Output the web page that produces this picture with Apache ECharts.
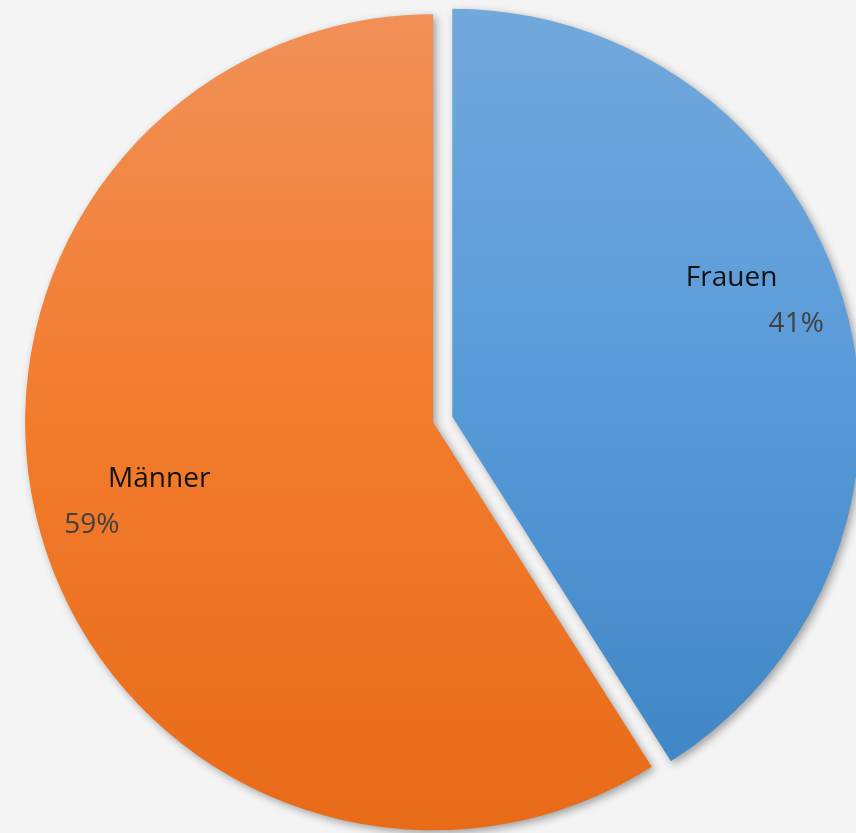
<!DOCTYPE html>
<html>
<head>
<meta charset="utf-8">
<script src="https://cdn.jsdelivr.net/npm/echarts@6/dist/echarts.min.js"></script>
<style>
  html, body { margin: 0; padding: 0; background: #f4f4f4; }
  #chart { width: 856px; height: 833px; }
</style>
</head>
<body>
<div id="chart"></div>
<script>
  const categories = ["Frauen", "Männer"];
  const values = [41, 59];
  const percentLabels = ["41%", "59%"];
  const gradients = [
    ["#72a8dc", "#589bd9", "#4186c6"],
    ["#f19058", "#f27b2c", "#e86b18"]
  ];

  const centerPct = [0.506, 0.507];
  const radius = 408;
  const explode = [20, 0];          // pulled-out distance for each slice
  const labelRatio = [0.80, 0.755];
  const labelShift = [[-11, -24], [0, -5]];

  const chart = echarts.init(document.getElementById("chart"));
  const W = chart.getWidth();
  const H = chart.getHeight();
  const total = values.reduce((s, v) => s + v, 0);

  function midAngle(index) {
    let before = 0;
    for (let i = 0; i < index; i++) before += values[i];
    return ((before + values[index] / 2) / total) * Math.PI * 2;
  }

  function sliceCenter(index) {
    const a = midAngle(index);
    return [W * centerPct[0] + explode[index] * Math.sin(a), H * centerPct[1] - explode[index] * Math.cos(a)];
  }

  const nameStyle = { fontSize: 28, color: "#111", fontFamily: "Open Sans", lineHeight: 44 };
  const pctStyle = { fontSize: 28, color: "#404040", fontFamily: "Open Sans", lineHeight: 48 };
  const rich = {
    nameL: Object.assign({ width: 138, align: "left" }, nameStyle),
    pctR: Object.assign({ width: 138, align: "right" }, pctStyle),
    nameR: Object.assign({ width: 146, align: "right" }, nameStyle),
    pctL: Object.assign({ width: 146, align: "left" }, pctStyle)
  };

  // one pie per slice so each can have its own centre (exploded slice) without select state
  const series = categories.map((_, k) => ({
    type: "pie",
    center: sliceCenter(k),
    radius: radius,
    startAngle: 90,
    silent: true,
    emphasis: { disabled: true },
    label: {
      position: "inside",
      formatter: (p) => p.dataIndex === 0
        ? `{nameL|${p.name}}\n{pctR|${percentLabels[p.dataIndex]}}`
        : `{nameR|${p.name}}\n{pctL|${percentLabels[p.dataIndex]}}`,
      rich
    },
    labelLine: { show: false },
    labelLayout: (p) => {
      const a = midAngle(p.dataIndex);
      const c = sliceCenter(p.dataIndex);
      const r = radius * labelRatio[p.dataIndex];
      const s = labelShift[p.dataIndex];
      return {
        x: c[0] + r * Math.sin(a) + s[0],
        y: c[1] - r * Math.cos(a) + s[1],
        align: "center", verticalAlign: "middle"
      };
    },
    data: categories.map((name, i) => i === k ? {
      name,
      value: values[i],
      itemStyle: {
        shadowBlur: 9,
        shadowColor: "rgba(0,0,0,0.35)",
        shadowOffsetX: 3,
        shadowOffsetY: 3,
        color: new echarts.graphic.LinearGradient(0, 0, 0, 1, [
          { offset: 0, color: gradients[i][0] },
          { offset: 0.5, color: gradients[i][1] },
          { offset: 1, color: gradients[i][2] }
        ])
      }
    } : {
      name,
      value: values[i],
      itemStyle: { color: "rgba(0,0,0,0)", shadowColor: "rgba(0,0,0,0)" },
      label: { show: false }
    })
  }));

  chart.setOption({
    animation: false,
    backgroundColor: "#f4f4f4",
    series
  });
</script>
</body>
</html>
